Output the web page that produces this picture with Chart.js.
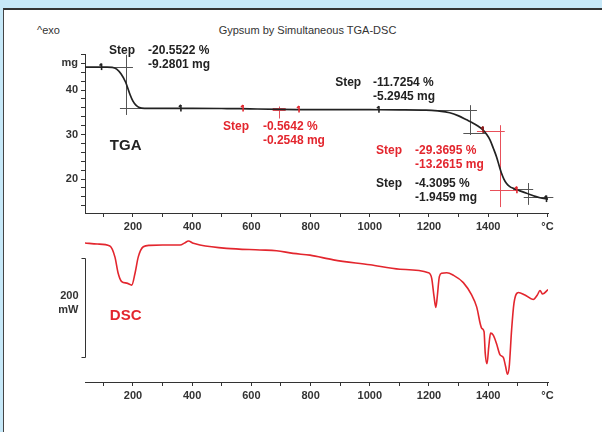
<!DOCTYPE html>
<html>
<head>
<meta charset="utf-8">
<script src="https://cdn.jsdelivr.net/npm/chart.js@4.4.1/dist/chart.umd.min.js"></script>
<style>
  html, body { margin: 0; padding: 0; background: #c6e8f8; }
  #wrap { position: relative; width: 602px; height: 432px; overflow: hidden; }
  #panel { position: absolute; left: 3px; top: 8px; width: 599px; height: 424px; background: #fff;
           border-top: 2px solid #333; border-left: 1px solid #444; box-sizing: border-box; }
  canvas { position: absolute; left: 0; top: 0; }
  .t { position: absolute; font-family: "Liberation Sans", Arial, sans-serif; font-size: 11px;
       color: #333; white-space: nowrap; line-height: 1; }
</style>
</head>
<body>
<div id="wrap">
  <div id="panel"></div>
  <div class="t" style="left:37px;top:25px">^exo</div>
  <div class="t" style="left:0;width:615px;text-align:center;top:25px">Gypsum by Simultaneous TGA-DSC</div>
  <canvas id="tga" width="602" height="432"></canvas>
  <canvas id="dsc" width="602" height="432"></canvas>
</div>
<script>
// ---- temperature axis (°C) ----
const tempMin = 38;
const tempMax = 1602;
const tempTicks = [100, 200, 300, 400, 500, 600, 700, 800, 900, 1000, 1100, 1200, 1300, 1400, 1500, 1600];
const tempTickLabels = ['', '200', '', '400', '', '600', '', '800', '', '1000', '', '1200', '', '1400', '', '°C'];

// ---- TGA mass axis (mg) ----
const massMin = 12.37;
const massMax = 48.1;
const massTicks = [14, 16, 18, 20, 22, 24, 26, 28, 30, 32, 34, 36, 38, 40, 42, 44, 46, 48];
const massTickLabels = ['', '', '', '20', '', '', '', '', '30', '', '', '', '', '40', '', '', 'mg', ''];

// ---- TGA curve: sample mass vs temperature ----
const tgaTemp = [38, 80, 110, 130, 145, 160, 175, 190, 200, 210, 222, 240, 300, 400, 500, 560, 620, 700, 760,
                 800, 900, 1000, 1100, 1190, 1230, 1270, 1300, 1327, 1345, 1361, 1383, 1395, 1406, 1418, 1428,
                 1437, 1445, 1453, 1462, 1473, 1485, 1505, 1530, 1555, 1575, 1602];
const tgaMass = [45.16, 45.16, 45.15, 45.1, 44.7, 43.6, 41.8, 39.0, 37.5, 36.6, 36.05, 35.9, 35.88, 35.87, 35.85,
                 35.83, 35.74, 35.65, 35.62, 35.61, 35.6, 35.58, 35.56, 35.5, 35.3, 34.9, 34.2, 33.3, 32.7, 32.1,
                 31.0, 30.0, 28.8, 26.8, 25.0, 23.0, 21.3, 20.0, 19.0, 18.3, 17.9, 17.4, 16.8, 16.2, 15.8, 15.5];

// ---- DSC curve: heat flow (mW, relative) vs temperature ----
const dscTemp = [38, 80, 122, 139, 150, 162, 179, 196, 207, 218, 235, 257, 300, 359, 376, 387, 404, 426, 516,
                 629, 685, 741, 798, 877, 1001, 1102, 1198, 1209, 1217, 1223, 1228, 1235, 1243, 1260, 1282, 1316,
                 1344, 1361, 1378, 1386, 1390, 1396, 1402, 1408, 1417, 1428, 1440, 1451, 1459, 1465, 1471, 1479,
                 1487, 1502, 1524, 1552, 1566, 1575, 1584, 1602];
const dscPower = [0, -2, -6, -28, -61, -78, -81, -85, -61, -28, -7.5, -4.7, -4, -4, 0.7, 4, -0.7, -4, -10.8,
                  -14, -15.5, -21, -24.5, -34, -44, -53, -60, -71, -108, -130, -108, -68, -61, -60, -65, -80,
                  -105, -129, -172, -179, -223, -244, -209, -182, -186, -203, -226, -231, -250, -265, -250, -176,
                  -122, -100, -105, -114, -105, -96, -103, -94];
const dscMin = -280.8;
const dscMax = 26.3;
const dscBarTop = -30;     // top of the 200 mW scale bar
const dscBarSpan = 200;    // mW

// ---- step evaluations ----
const stepPercentText = ['-20.5522 %', '-0.5642 %', '-11.7254 %', '-29.3695 %', '-4.3095 %'];
const stepMassText = ['-9.2801 mg', '-0.2548 mg', '-5.2945 mg', '-13.2615 mg', '-1.9459 mg'];
const stepLossMg = [9.2801, 0.2548, 5.2945, 13.2615, 1.9459];
const stepUpperMass = [45.16, 35.88, 35.55, 30.8, 17.8];
const stepMidTemp = [177, 694, 1340, 1440, 1534];
const stepVertTop = [47.9, 36.3, 36.6, 32.1, 19.1];
const stepVertBottom = [34.4, 33.6, 29.9, 13.7, 14.2];
const stepUpperFrom = [128, 672, 1204, 1362, 1485];
const stepUpperTo = [200, 716, 1362, 1456, 1552];
const stepLowerFrom = [156, 672, 1316, 1406, 1520];
const stepLowerTo = [240, 716, 1390, 1497, 1620];
// where each step's result text sits (temperature, mass of first line)
const stepLabelTemp = [119, 504, 883, 1021, 1021];
const stepValueTemp = [251, 639, 1011, 1153, 1153];
const stepLabelMass = [48.77, 31.7, 41.58, 26.3, 18.89];

// ---- evaluation limit markers on the TGA curve ----
const markerTemp = [94, 362, 572, 761, 1031, 1383, 1497, 1597];
const markerMass = [45.16, 35.88, 35.83, 35.62, 35.58, 31.0, 17.5, 15.5];

// ---- styles ----
const INK = '#222';
const RED = '#e3262e';
const FONT = '"Liberation Sans", Arial, sans-serif';
const stepInk = [INK, RED, INK, RED, INK];
const stepLineInk = ['#555', '#e8505a', '#555', '#e8505a', '#555'];
const markerInk = [INK, INK, RED, RED, INK, '#8b1a1a', RED, INK];

function xAxis() {
  return {
    type: 'linear', min: tempMin, max: tempMax,
    afterBuildTicks(s) { s.ticks = tempTicks.map(v => ({ value: v })); },
    afterFit(s) { s.height = 25; },
    ticks: {
      autoSkip: false, maxRotation: 0, padding: 3, color: '#333',
      font: { family: FONT, size: 11, weight: 'bold' },
      callback: (v) => { const i = tempTicks.indexOf(v); return i >= 0 ? tempTickLabels[i] : ''; }
    },
    grid: { drawOnChartArea: false, tickLength: 4, color: '#333', lineWidth: 1 },
    border: { color: '#333', width: 1 }
  };
}

function seg(ctx, x1, y1, x2, y2) {
  ctx.beginPath(); ctx.moveTo(x1, y1); ctx.lineTo(x2, y2); ctx.stroke();
}

const tgaCrosshairs = {
  id: 'tgaCrosshairs',
  beforeDatasetsDraw(chart) {
    const { ctx, scales: { x, y } } = chart;
    ctx.save();
    ctx.lineWidth = 1;
    stepMidTemp.forEach((t, i) => {
      ctx.strokeStyle = stepLineInk[i];
      const xm = Math.round(x.getPixelForValue(t)) + 0.5;
      seg(ctx, xm, y.getPixelForValue(stepVertTop[i]), xm, y.getPixelForValue(stepVertBottom[i]));
      const yu = Math.round(y.getPixelForValue(stepUpperMass[i])) + 0.5;
      seg(ctx, x.getPixelForValue(stepUpperFrom[i]), yu, x.getPixelForValue(stepUpperTo[i]), yu);
      const yl = Math.round(y.getPixelForValue(stepUpperMass[i] - stepLossMg[i])) + 0.5;
      seg(ctx, x.getPixelForValue(stepLowerFrom[i]), yl, x.getPixelForValue(stepLowerTo[i]), yl);
    });
    ctx.restore();
  },
  afterDatasetsDraw(chart) {
    const { ctx, scales: { x, y } } = chart;
    ctx.save();
    // limit markers
    ctx.lineWidth = 1.6;
    markerTemp.forEach((t, i) => {
      const px = x.getPixelForValue(t), py = y.getPixelForValue(markerMass[i]);
      ctx.strokeStyle = markerInk[i];
      seg(ctx, px, py - 3.5, px, py + 3);
      seg(ctx, px, py - 3.5, px - 2, py - 1.5);
    });
    // step results
    ctx.textBaseline = 'middle';
    ctx.textAlign = 'left';
    ctx.font = 'bold 12px ' + FONT;
    stepPercentText.forEach((txt, i) => {
      ctx.fillStyle = stepInk[i];
      const y1 = y.getPixelForValue(stepLabelMass[i]);
      ctx.fillText('Step', x.getPixelForValue(stepLabelTemp[i]), y1);
      ctx.fillText(txt, x.getPixelForValue(stepValueTemp[i]), y1);
      ctx.fillText(stepMassText[i], x.getPixelForValue(stepValueTemp[i]), y1 + 13.5);
    });
    ctx.fillStyle = INK;
    ctx.font = 'bold 15px ' + FONT;
    ctx.fillText('TGA', x.getPixelForValue(122), y.getPixelForValue(27.4));
    ctx.restore();
  }
};

const dscScaleBar = {
  id: 'dscScaleBar',
  afterDatasetsDraw(chart) {
    const { ctx, chartArea, scales: { x, y } } = chart;
    ctx.save();
    const bx = chartArea.left + 0.5;
    const yTop = Math.round(y.getPixelForValue(dscBarTop)) + 0.5;
    const yBot = Math.round(y.getPixelForValue(dscBarTop - dscBarSpan)) + 0.5;
    ctx.strokeStyle = '#333';
    ctx.lineWidth = 1;
    ctx.beginPath();
    ctx.moveTo(bx - 4, yTop); ctx.lineTo(bx, yTop); ctx.lineTo(bx, yBot); ctx.lineTo(bx - 4, yBot);
    ctx.stroke();
    ctx.fillStyle = '#333';
    ctx.font = 'bold 11px ' + FONT;
    ctx.textAlign = 'right';
    ctx.textBaseline = 'middle';
    const mid = (yTop + yBot) / 2;
    ctx.fillText(String(dscBarSpan), bx - 7, mid - 12);
    ctx.fillText('mW', bx - 7, mid + 1.5);
    ctx.textAlign = 'left';
    ctx.fillStyle = RED;
    ctx.font = 'bold 15px ' + FONT;
    ctx.fillText('DSC', x.getPixelForValue(122), y.getPixelForValue(-147.5));
    ctx.restore();
  }
};

new Chart(document.getElementById('tga'), {
  type: 'line',
  data: {
    datasets: [{
      data: tgaTemp.map((t, i) => ({ x: t, y: tgaMass[i] })),
      borderColor: INK, borderWidth: 1.7, pointRadius: 0,
      cubicInterpolationMode: 'monotone', fill: false
    }]
  },
  options: {
    responsive: false, animation: false, devicePixelRatio: 1,
    layout: { padding: { left: 0, right: 54, top: 54, bottom: 194 } },
    plugins: { legend: { display: false }, tooltip: { enabled: false } },
    scales: {
      x: xAxis(),
      y: {
        min: massMin, max: massMax,
        afterBuildTicks(s) { s.ticks = massTicks.map(v => ({ value: v })); },
        afterFit(s) { s.width = 85; },
        ticks: {
          autoSkip: false, padding: 3, color: '#333',
          font: { family: FONT, size: 11, weight: 'bold' },
          callback: (v) => { const i = massTicks.indexOf(v); return i >= 0 ? massTickLabels[i] : ''; }
        },
        grid: { drawOnChartArea: false, tickLength: 4, color: '#333', lineWidth: 1 },
        border: { color: '#333', width: 1 }
      }
    }
  },
  plugins: [tgaCrosshairs]
});

new Chart(document.getElementById('dsc'), {
  type: 'line',
  data: {
    datasets: [{
      data: dscTemp.map((t, i) => ({ x: t, y: dscPower[i] })),
      borderColor: RED, borderWidth: 1.6, pointRadius: 0,
      cubicInterpolationMode: 'monotone', fill: false
    }]
  },
  options: {
    responsive: false, animation: false, devicePixelRatio: 1,
    layout: { padding: { left: 85, right: 54, top: 230, bottom: 25 } },
    plugins: { legend: { display: false }, tooltip: { enabled: false } },
    scales: {
      x: xAxis(),
      y: { display: false, min: dscMin, max: dscMax }
    }
  },
  plugins: [dscScaleBar]
});
</script>
</body>
</html>
